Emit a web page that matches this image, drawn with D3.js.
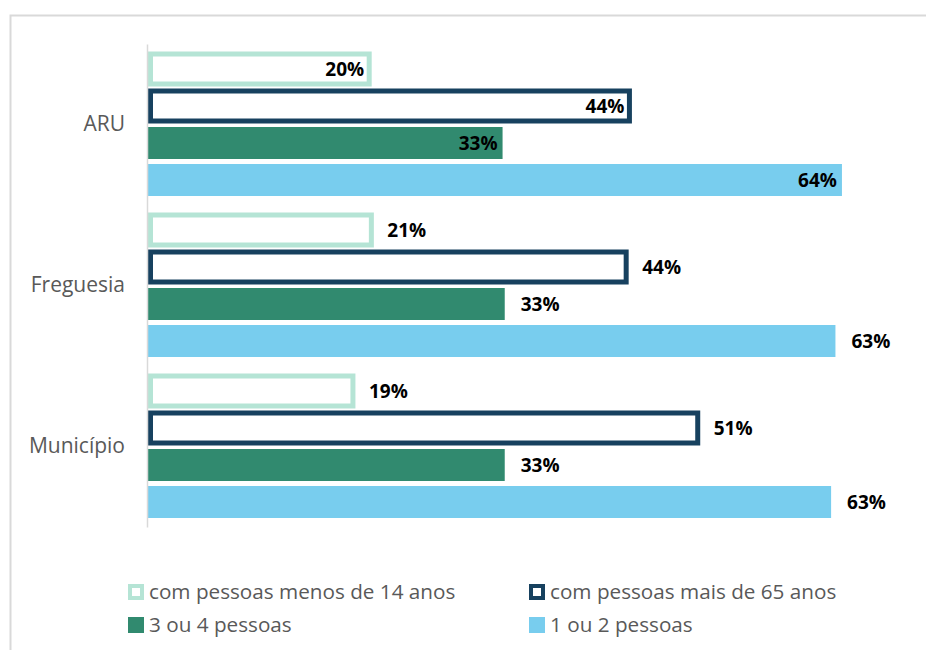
<!DOCTYPE html>
<html>
<head>
<meta charset="utf-8">
<script src="https://cdn.jsdelivr.net/npm/d3@7"></script>
<style>
  body { margin: 0; background: #fff; }
  svg { display: block; font-family: 'Open Sans', sans-serif; }
</style>
</head>
<body>
<div id="chart"></div>
<script>
// categories (top to bottom)
const categories = ['ARU', 'Freguesia', 'Município'];
// series, in drawing order inside each group
const seriesNames = [
  'com pessoas menos de 14 anos',
  'com pessoas mais de 65 anos',
  '3 ou 4 pessoas',
  '1 ou 2 pessoas'
];
// values per series, same order as categories
const menos14 = [0.204, 0.206, 0.189];
const mais65 = [0.444, 0.441, 0.507];
const tresQuatro = [0.327, 0.329, 0.329];
const umDois = [0.640, 0.634, 0.630];
// groups whose labels sit inside the bar end
const insideLabels = ['ARU'];

const seriesValues = [menos14, mais65, tresQuatro, umDois];
const seriesStyle = [
  { fill: '#ffffff', stroke: '#b5e4d5' },
  { fill: '#ffffff', stroke: '#17415f' },
  { fill: '#318a6f', stroke: null },
  { fill: '#78cdee', stroke: null }
];

const width = 926, height = 650;
const svg = d3.select('#chart').append('svg')
  .attr('width', width)
  .attr('height', height);

// frame
svg.append('rect')
  .attr('x', 10.5).attr('y', 15.5)
  .attr('width', 960).attr('height', 700)
  .attr('fill', 'none')
  .attr('stroke', '#d9d9d9')
  .attr('stroke-width', 2);

const x = d3.scaleLinear().domain([0, 0.7]).range([148, 907]);
const y = d3.scaleBand().domain(categories).range([44, 527]);
const ySub = d3.scaleBand().domain(seriesNames)
  .range([6.5, 154.5])
  .paddingInner(5 / 37)
  .paddingOuter(5 / 74);

const rows = [];
categories.forEach((c, ci) => {
  seriesNames.forEach((s, si) => {
    rows.push({ cat: c, series: s, si: si, value: seriesValues[si][ci] });
  });
});

const fmt = d3.format('.0%');

const groups = svg.append('g').selectAll('g.group')
  .data(categories)
  .join('g')
  .attr('class', 'group')
  .attr('transform', d => 'translate(0,' + y(d) + ')');

groups.selectAll('rect')
  .data(c => rows.filter(r => r.cat === c))
  .join('rect')
  .attr('x', d => seriesStyle[d.si].stroke ? x(0) + 2.5 : x(0))
  .attr('y', d => seriesStyle[d.si].stroke ? ySub(d.series) + 1 : ySub(d.series))
  .attr('width', d => seriesStyle[d.si].stroke ? x(d.value) - x(0) - 2.5 : x(d.value) - x(0))
  .attr('height', d => seriesStyle[d.si].stroke ? ySub.bandwidth() - 2 : ySub.bandwidth())
  .attr('fill', d => seriesStyle[d.si].fill)
  .attr('stroke', d => seriesStyle[d.si].stroke)
  .attr('stroke-width', d => seriesStyle[d.si].stroke ? 5 : 0);

groups.selectAll('text.label')
  .data(c => rows.filter(r => r.cat === c))
  .join('text')
  .attr('class', 'label')
  .attr('x', d => insideLabels.includes(d.cat) ? x(d.value) - 5 : x(d.value) + 16)
  .attr('y', d => ySub(d.series) + ySub.bandwidth() / 2)
  .attr('dy', '0.36em')
  .attr('text-anchor', d => insideLabels.includes(d.cat) ? 'end' : 'start')
  .attr('font-size', 19)
  .attr('font-weight', 'bold')
  .attr('fill', '#000')
  .text(d => fmt(d.value));

// category axis
const yAxis = svg.append('g')
  .attr('transform', 'translate(147,0)')
  .call(d3.axisLeft(y).tickSize(0).tickSizeOuter(0).tickPadding(22));
yAxis.select('.domain').attr('stroke', '#d9d9d9').attr('stroke-width', 1.5);
yAxis.selectAll('text')
  .attr('font-family', "'Open Sans', sans-serif")
  .attr('font-size', 21)
  .attr('fill', '#595959');

// legend
const legendPos = [[128, 592], [529, 592], [128, 625], [529, 625]];
const legend = svg.append('g').selectAll('g')
  .data(seriesNames)
  .join('g')
  .attr('transform', (d, i) => 'translate(' + legendPos[i][0] + ',' + legendPos[i][1] + ')');

legend.append('rect')
  .attr('x', (d, i) => seriesStyle[i].stroke ? 2 : 0)
  .attr('y', (d, i) => seriesStyle[i].stroke ? -6 : -8)
  .attr('width', (d, i) => seriesStyle[i].stroke ? 12 : 16)
  .attr('height', (d, i) => seriesStyle[i].stroke ? 12 : 16)
  .attr('fill', (d, i) => seriesStyle[i].fill)
  .attr('stroke', (d, i) => seriesStyle[i].stroke)
  .attr('stroke-width', (d, i) => seriesStyle[i].stroke ? 4 : 0);

legend.append('text')
  .attr('x', 21)
  .attr('dy', '0.35em')
  .attr('font-size', 20.7)
  .attr('fill', '#595959')
  .text(d => d);
</script>
</body>
</html>
